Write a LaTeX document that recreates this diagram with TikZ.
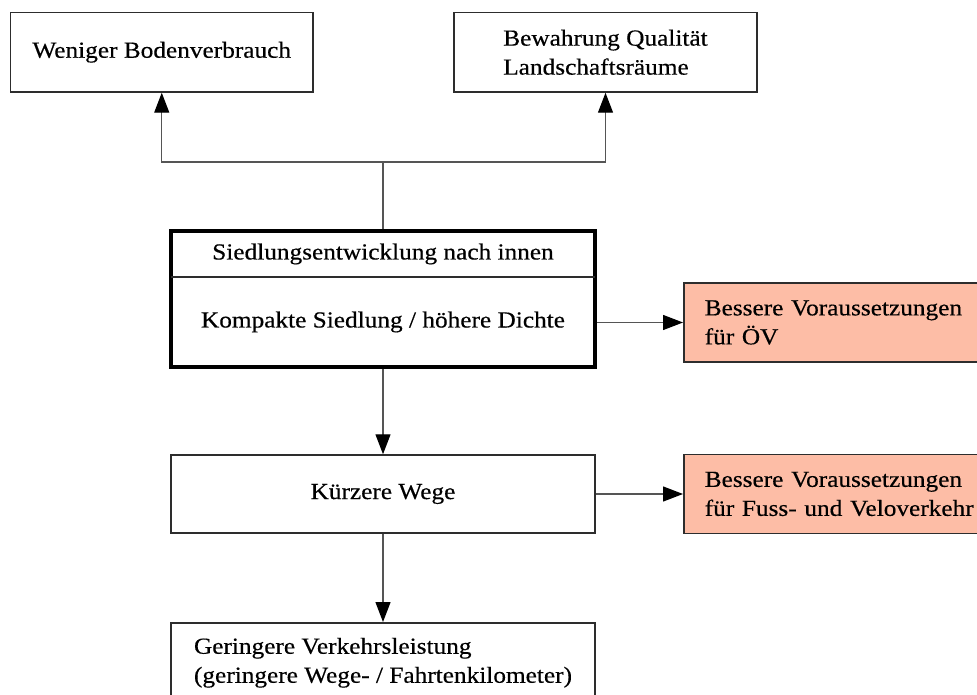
\documentclass[tikz,border=0pt]{standalone}
\usepackage{fontspec}
\setmainfont{Liberation Serif}[FakeStretch=1.1, FakeBold=0.4]
\usetikzlibrary{arrows.meta}
\definecolor{salmon}{RGB}{253,189,166}
\definecolor{linegray}{RGB}{85,85,85}
\definecolor{boxgray}{RGB}{45,45,45}
\begin{document}
\begin{tikzpicture}[x=1pt,y=-1pt,
  every node/.style={font=\fontsize{23}{29}\selectfont, text=black},
  box/.style={draw=boxgray, line width=1.5pt, rectangle, inner sep=0pt},
  hbox/.style={box, fill=salmon, align=left, anchor=west, inner xsep=21pt, text width=280pt, minimum height=79pt},
  conn/.style={draw=linegray, line width=1.3pt},
  arr/.style={conn, -{Triangle[length=20pt,width=15pt,color=black]}}]
\useasboundingbox (0,0) rectangle (977,695);
\clip (0,0) rectangle (977,695);
\fill[white] (0,0) rectangle (977,695);

\node[box, minimum width=302.5pt, minimum height=79.5pt] (b1) at (161.75,52.25) {Weniger Bodenverbrauch};
\node[box, align=left, minimum width=303pt, minimum height=79.5pt] (b2) at (605.5,52.25) {Bewahrung Qualität\\Landschaftsräume};

\node[draw=black, line width=3.5pt, minimum width=424pt, minimum height=136pt, inner sep=0pt] (main) at (383,299) {};
\coordinate (dl) at (171,277);
\coordinate (dr) at (595,277);
\draw[conn, draw=boxgray] (dl) -- (dr);
\node (mtop) at (383,254) {Siedlungsentwicklung nach innen};
\node (mbot) at (383,322) {Kompakte Siedlung / höhere Dichte};

\node[hbox] (b4) at (683,322.5) {Bessere Voraussetzungen\\für ÖV};
\node[box, minimum width=424pt, minimum height=78pt] (b5) at (383,494) {Kürzere Wege};
\node[hbox] (b6) at (683,494) {Bessere Voraussetzungen\\für Fuss- und Veloverkehr};
\node[box, align=left, anchor=north, minimum width=424pt, minimum height=80pt] (b7) at (383,622) {Geringere Verkehrsleistung\\(geringere Wege- / Fahrtenkilometer)};

\coordinate (j) at (383,162);
\draw[conn] (main.north) -- (j);
\draw[arr] (j) -| (b1.south);
\draw[arr] (j) -| (b2.south);
\draw[arr] (main.east |- b4.west) -- (b4.west);
\draw[arr] (main.south) -- (b5.north);
\draw[arr] (b5.east) -- (b6.west);
\draw[arr] (b5.south) -- (b7.north);
\end{tikzpicture}
\end{document}
